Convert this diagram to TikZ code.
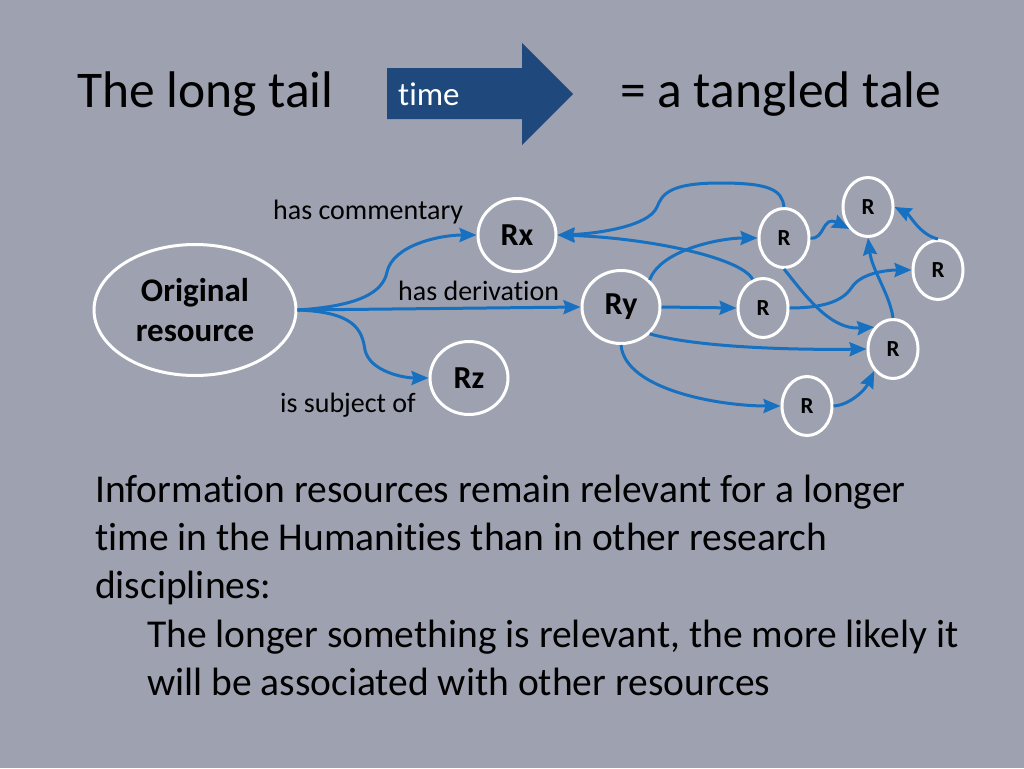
\documentclass[tikz,border=0pt]{standalone}
\usepackage{fontspec}
\setmainfont{Carlito}[Ligatures=NoCommon]
\usetikzlibrary{shapes.geometric,arrows.meta}
\definecolor{bgc}{RGB}{158,162,176}
\definecolor{edgeblue}{RGB}{24,112,192}
\definecolor{arrowblue}{RGB}{31,73,125}
\tikzset{
  resnode/.style={ellipse,draw=white,line width=3pt,inner sep=0pt,font=\bfseries},
  bigres/.style={resnode,minimum width=78pt,minimum height=73pt,font=\fontsize{32}{34}\selectfont\bfseries},
  smallres/.style={resnode,minimum width=50pt,minimum height=59pt,font=\fontsize{23}{25}\selectfont\bfseries},
  link/.style={draw=edgeblue,line width=3pt,-{Stealth[length=17pt,width=14pt,inset=2pt]}},
  lbl/.style={font=\fontsize{28}{30}\selectfont,inner sep=0pt},
  bodytext/.style={font=\fontsize{39.5}{44}\selectfont,anchor=base west,inner sep=0pt},
  titletext/.style={font=\fontsize{51.5}{56}\selectfont,anchor=base west,inner sep=0pt}
}
\begin{document}
\begin{tikzpicture}[x=1pt,y=-1pt]
\fill[bgc] (0,0) rectangle (1024,768);
\useasboundingbox (0,0) rectangle (1024,768);

% title
\node[titletext] (t1) at (77,107) {The long tail};
\node[titletext] (t2) at (620,107) {= a tangled tale};
\fill[arrowblue] (387,68) -- (522,68) -- (522,43) -- (573,94) -- (522,145) -- (522,119) -- (387,119) -- cycle;
\node[font=\fontsize{33}{35}\selectfont,text=white,anchor=base west,inner sep=0pt] (tm) at (398,105) {time};

% nodes
\node[resnode,minimum width=202pt,minimum height=131pt,font=\fontsize{33}{40}\selectfont\bfseries,align=center] (orig) at (195,310) {Original\\resource};
\node[bigres] (rx) at (517,235) {Rx};
\node[bigres] (ry) at (621,307) {Ry};
\node[bigres] (rz) at (469,378) {Rz};
\node[smallres] (ra) at (784,238) {R};
\node[smallres] (rb) at (868,207) {R};
\node[smallres] (rc) at (938,270) {R};
\node[smallres] (rd) at (763,308) {R};
\node[smallres] (re) at (893,349) {R};
\node[smallres] (rf) at (807,406) {R};

% labels
\node[lbl,anchor=base west] (l1) at (273,219) {has commentary};
\node[lbl,anchor=base west] (l2) at (398,300) {has derivation};
\node[lbl,anchor=base west] (l3) at (280,412) {is subject of};

% edges
\path[link] (orig.east) .. controls (360,306) and (383,292) .. (387,272) .. controls (393,245) and (440,235) .. (rx.west);
\path[link] (orig.east) -- (ry.west);
\path[link] (orig.east) .. controls (355,312) and (362,330) .. (365,350) .. controls (370,372) and (405,378) .. (rz.west);
\path[link] (ra.north) .. controls (782,190) and (770,183) .. (720,183) .. controls (668,183) and (662,195) .. (657,207) .. controls (648,228) and (590,234) .. (rx.east);
\path[link] (rd.110) .. controls (742,258) and (650,238) .. (rx.east);
\path[link] (ry.north east) .. controls (660,250) and (720,238) .. (ra.west);
\path[link] (ry.east) -- (rd.west);
\path[link] (ry.south east) .. controls (700,348) and (800,350) .. (re.west);
\path[link] (ry.south) .. controls (625,390) and (720,406) .. (rf.west);
\path[link] (ra.east) .. controls (825,240) and (822,215) .. (rb.south west);
\path[link] (ra.south) .. controls (805,295) and (830,330) .. (re.north west);
\path[link] (rd.east) .. controls (830,308) and (845,298) .. (852,287) .. controls (862,272) and (890,270) .. (rc.west);
\path[link] (re.north) .. controls (890,295) and (872,270) .. (rb.south);
\path[link] (rc.north) .. controls (920,235) and (910,215) .. (rb.east);
\path[link] (rf.east) .. controls (850,405) and (865,390) .. (re.south west);

% body text
\node[bodytext] (b1) at (95,502) {Information resources remain relevant for a longer};
\node[bodytext] (b2) at (95,550) {time in the Humanities than in other research};
\node[bodytext] (b3) at (95,598) {disciplines:};
\node[bodytext] (b4) at (147,647) {The longer something is relevant, the more likely it};
\node[bodytext] (b5) at (147,695) {will be associated with other resources};
\end{tikzpicture}
\end{document}
